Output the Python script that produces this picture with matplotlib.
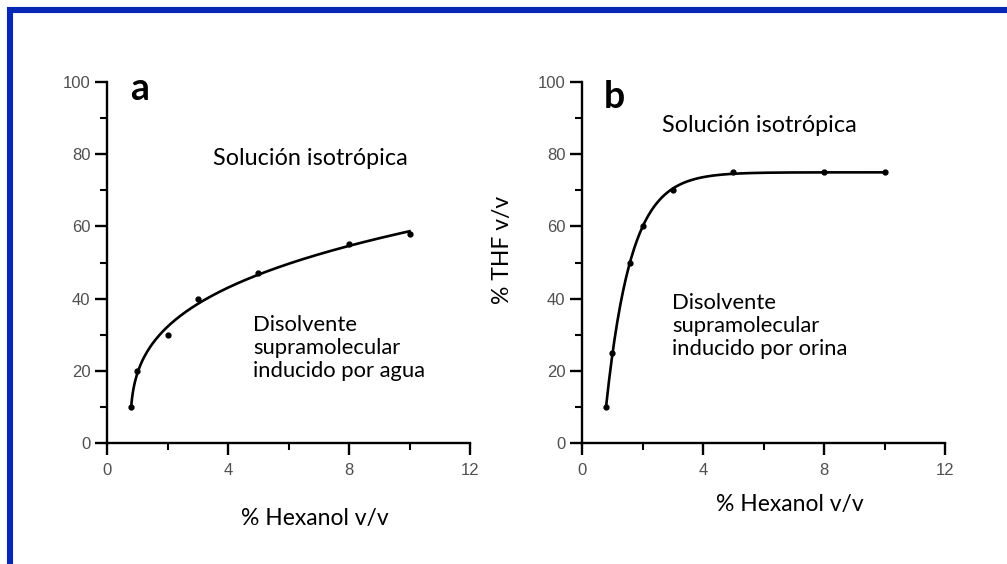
"""
Phase diagrams of supramolecular solvents: % THF vs % hexanol (water and urine).
"""

import matplotlib

matplotlib.use("Agg")
import matplotlib.pyplot as plt
import numpy as np
from matplotlib.lines import Line2D
from matplotlib.ticker import MultipleLocator

# panel a: induced by water
hex_a = [0.8, 1.0, 2.0, 3.0, 5.0, 8.0, 10.0]
thf_a = [10, 20, 30, 40, 47, 55, 58]

# panel b: induced by urine
hex_b = [0.8, 1.0, 1.6, 2.0, 3.0, 5.0, 8.0, 10.0]
thf_b = [10, 25, 50, 60, 70, 75, 75, 75]

x_ticks = [0, 4, 8, 12]
y_ticks = [0, 20, 40, 60, 80, 100]

TEXT_FONT = ["Lato", "DejaVu Sans"]
TICK_FONT = ["Liberation Sans", "DejaVu Sans"]
BORDER = "#0628b4"
W, H = 1007, 564


def fit_power(x, y):
    # y = y0 + c * (x - x0) ** p, grid search over x0, p
    x = np.asarray(x, float)
    y = np.asarray(y, float)
    best = None
    for x0 in np.linspace(0.4, x.min() - 0.005, 40):
        for p in np.linspace(0.15, 0.9, 76):
            basis = np.column_stack([np.ones_like(x), (x - x0) ** p])
            coef, *_ = np.linalg.lstsq(basis, y, rcond=None)
            err = np.sum((basis @ coef - y) ** 2)
            if best is None or err < best[0]:
                best = (err, x0, p, coef)
    _, x0, p, coef = best
    xs = np.linspace(x.min(), x.max(), 300)
    return xs, coef[0] + coef[1] * (xs - x0) ** p


def fit_saturation(x, y):
    # y = A - B * exp(-k x), grid search over k
    x = np.asarray(x, float)
    y = np.asarray(y, float)
    best = None
    for k in np.linspace(0.3, 4.0, 200):
        basis = np.column_stack([np.ones_like(x), -np.exp(-k * x)])
        coef, *_ = np.linalg.lstsq(basis, y, rcond=None)
        err = np.sum((basis @ coef - y) ** 2)
        if best is None or err < best[0]:
            best = (err, k, coef)
    _, k, coef = best
    xs = np.linspace(x.min(), x.max(), 300)
    return xs, coef[0] - coef[1] * np.exp(-k * xs)


def style_axis(ax):
    ax.set_xlim(0, 12)
    ax.set_ylim(0, 100)
    ax.set_xticks(x_ticks)
    ax.set_yticks(y_ticks)
    ax.xaxis.set_minor_locator(MultipleLocator(2))
    ax.yaxis.set_minor_locator(MultipleLocator(10))
    for side in ["top", "right"]:
        ax.spines[side].set_visible(False)
    for side in ["left", "bottom"]:
        ax.spines[side].set_linewidth(1.7)
    ax.tick_params(which="major", length=8.5, width=1.7, color="black",
                   labelsize=12, labelcolor="#505050")
    ax.tick_params(which="minor", length=5, width=1.5, color="black")
    ax.tick_params(axis="x", which="major", pad=6)
    ax.tick_params(axis="y", which="major", pad=3.5)
    for lab in ax.get_xticklabels() + ax.get_yticklabels():
        lab.set_family(TICK_FONT)
    ax.patch.set_visible(False)


fig = plt.figure(figsize=(W / 100, H / 100), dpi=100)

ax_a = fig.add_axes([107 / W, 1 - 443 / H, 363 / W, 361 / H])
ax_b = fig.add_axes([582 / W, 1 - 443 / H, 363 / W, 361 / H])

xs, ys = fit_power(hex_a, thf_a)
ax_a.plot(xs, ys, color="black", lw=1.9, zorder=2, clip_on=False)
ax_a.plot(hex_a, thf_a, "o", color="black", ms=3.5, zorder=3, clip_on=False)

xs, ys = fit_saturation(hex_b, thf_b)
ax_b.plot(xs, ys, color="black", lw=1.9, zorder=2, clip_on=False)
ax_b.plot(hex_b, thf_b, "o", color="black", ms=3.5, zorder=3, clip_on=False)

for ax in (ax_a, ax_b):
    style_axis(ax)

# panel letters
ax_a.text(0.78, 95.0, "a", fontsize=27, fontweight="bold", family=TEXT_FONT,
          va="baseline", ha="left")
ax_b.text(0.72, 92.8, "b", fontsize=27, fontweight="bold", family=TEXT_FONT,
          va="baseline", ha="left")

# region labels (multi-line: baseline refers to the last line)
ax_a.text(6.71, 77.0, "Solución isotrópica", fontsize=16.8, family=TEXT_FONT,
          ha="center", va="baseline")
ax_a.text(4.83, 18.3, "Disolvente\nsupramolecular\ninducido por agua",
          fontsize=15.8, family=TEXT_FONT, ha="left", va="baseline",
          linespacing=1.2)
ax_b.text(5.88, 86.2, "Solución isotrópica", fontsize=16.8, family=TEXT_FONT,
          ha="center", va="baseline")
ax_b.text(2.98, 24.3, "Disolvente\nsupramolecular\ninducido por orina",
          fontsize=15.8, family=TEXT_FONT, ha="left", va="baseline",
          linespacing=1.2)

# axis labels
fig.text(315 / W, 1 - 518 / H, "% Hexanol v/v", fontsize=16.5,
         family=TEXT_FONT, ha="center", va="center")
fig.text(790 / W, 1 - 505 / H, "% Hexanol v/v", fontsize=16.5,
         family=TEXT_FONT, ha="center", va="center")
fig.text(502 / W, 1 - 250 / H, "% THF v/v", fontsize=16.5,
         family=TEXT_FONT, ha="center", va="center", rotation=90)

# blue frame (left and top edges)
fig.add_artist(Line2D([10 / W, 10 / W], [0, 1 - 7 / H], transform=fig.transFigure,
                      color=BORDER, lw=4.4, solid_capstyle="butt"))
fig.add_artist(Line2D([7 / W, 1], [1 - 10 / H, 1 - 10 / H], transform=fig.transFigure,
                      color=BORDER, lw=4.4, solid_capstyle="butt"))

fig.savefig("out.png", dpi=100)
